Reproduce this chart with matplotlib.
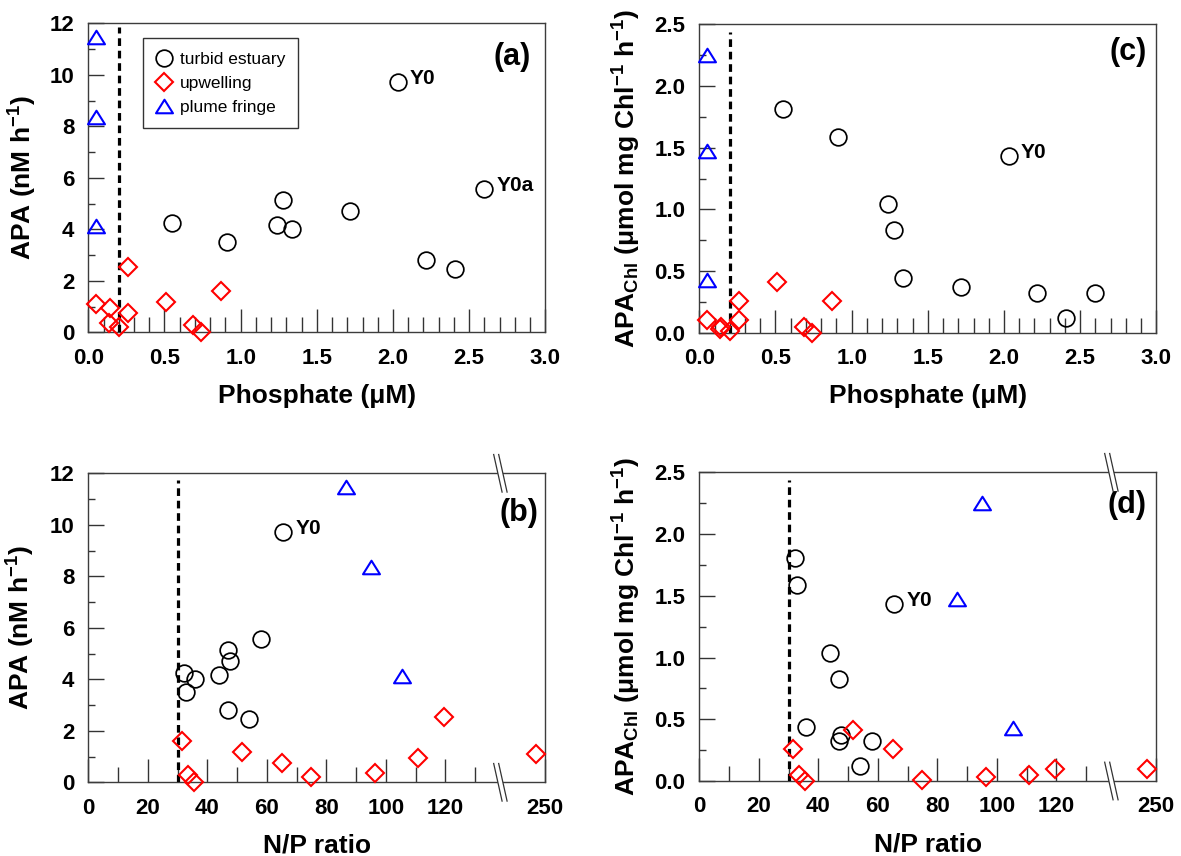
import numpy as np
import matplotlib
matplotlib.use("Agg")
import matplotlib.pyplot as plt
from matplotlib.path import Path
from matplotlib.ticker import FixedLocator, MultipleLocator, FormatStrFormatter
from matplotlib.patches import Polygon
from matplotlib.lines import Line2D

plt.rcParams['font.family'] = ['Liberation Sans', 'DejaVu Sans']
plt.rcParams['font.weight'] = 'bold'
plt.rcParams['axes.labelweight'] = 'bold'
plt.rcParams['mathtext.default'] = 'regular'

# ---------------- data ----------------
# turbid estuary
P_turbid = [0.55, 0.91, 1.24, 1.28, 1.34, 1.72, 2.03, 2.22, 2.41, 2.60]
APA_turbid = [4.26, 3.50, 4.17, 5.14, 4.03, 4.70, 9.73, 2.80, 2.45, 5.57]
NP_turbid = [32.2, 32.9, 44.0, 46.9, 35.7, 47.5, 65.6, 46.8, 54.1, 58.2]
APAchl_turbid = [1.81, 1.59, 1.04, 0.83, 0.44, 0.37, 1.43, 0.32, 0.12, 0.32]
station_labels_turbid = ['', '', '', '', '', '', 'Y0', '', '', 'Y0a']

# upwelling
P_up = [0.05, 0.135, 0.14, 0.20, 0.26, 0.26, 0.51, 0.685, 0.74, 0.87]
APA_up = [1.10, 0.38, 0.94, 0.19, 2.55, 0.75, 1.18, 0.28, 0.03, 1.60]
NP_up = [247, 96.4, 110.8, 74.8, 119.5, 65.2, 51.6, 33.5, 35.4, 31.6]
APAchl_up = [0.10, 0.03, 0.05, 0.01, 0.10, 0.26, 0.41, 0.05, 0.00, 0.26]

# plume fringe
P_plume = [0.05, 0.05, 0.05]
APA_plume = [11.45, 8.35, 4.12]
NP_plume = [86.5, 94.9, 105.6]
APAchl_plume = [1.47, 2.25, 0.43]

series_labels = ['turbid estuary', 'upwelling', 'plume fringe']

# reference thresholds (dashed lines)
P_threshold = 0.2
NP_threshold = 30

phos_ticks = [0.0, 0.5, 1.0, 1.5, 2.0, 2.5, 3.0]
np_ticks = [0, 20, 40, 60, 80, 100, 120, 250]
np_tick_labels = ['0', '20', '40', '60', '80', '100', '120', '250']
np_minor_ticks = [10, 30, 50, 70, 90, 110, 130]

# ---------------- styles ----------------
TRI = Path([(-1, -0.8), (1, -0.8), (0, 0.8), (-1, -0.8)],
           [Path.MOVETO, Path.LINETO, Path.LINETO, Path.CLOSEPOLY])
styles = [dict(marker='o', ms=12.0, mec='black', mew=1.25),
          dict(marker='D', ms=9.0, mec='#ff0000', mew=1.5),
          dict(marker=TRI, ms=12.2, mec='#0000ff', mew=1.5)]

# broken N/P axis
B0, B1 = 138.5, 235.0
EPS = 1e-3


def fwd(x):
    x = np.asarray(x, dtype=float)
    return np.where(x <= B0, x,
                    np.where(x >= B1, x - (B1 - B0) + (B1 - B0) * EPS,
                             B0 + (x - B0) * EPS))


def inv(y):
    y = np.asarray(y, dtype=float)
    g = (B1 - B0) * EPS
    return np.where(y <= B0, y,
                    np.where(y >= B0 + g, y + (B1 - B0) - g,
                             B0 + (y - B0) / EPS))


fig = plt.figure(figsize=(11.81, 8.56), dpi=100)
FW, FH = 1181.0, 856.0
W, H = 457 / FW, 309 / FH
ax_a = fig.add_axes([88.3 / FW, (FH - 332.3) / FH, W, H])
ax_c = fig.add_axes([699.3 / FW, (FH - 332.7) / FH, W, 308.4 / FH])
ax_b = fig.add_axes([88.3 / FW, (FH - 782.3) / FH, W, H])
ax_d = fig.add_axes([699.3 / FW, (FH - 781.0) / FH, W, 308.7 / FH])

TICK_FS = 16
LABEL_FS = 19
XLAB_Y = -0.166


def style(ax):
    for s in ax.spines.values():
        s.set_color('#3c3c3c')
        s.set_linewidth(1.0)
    ax.tick_params(axis='both', which='both', direction='in', color='#333333',
                   width=1.0, top=False, right=False, labelsize=TICK_FS)
    ax.tick_params(axis='x', which='major', length=16.5, pad=11)
    ax.tick_params(axis='x', which='minor', length=11)
    ax.tick_params(axis='y', which='major', length=11.3, pad=10)
    ax.tick_params(axis='y', which='minor', length=5)


def scatter_all(ax, xs, ys):
    handles = []
    for x, y, st in zip(xs, ys, styles):
        h, = ax.plot(x, y, linestyle='none', mfc='none', clip_on=False, zorder=4, **st)
        handles.append(h)
    return handles


def annotate(ax, xs, ys, labels):
    for x, y, t in zip(xs, ys, labels):
        if t:
            ax.annotate(t, xy=(x, y), xytext=(8.5, 2.5), textcoords='offset points',
                        ha='left', va='center', fontsize=15, fontweight='bold')


def add_break(ax, xval):
    fx = ax.transAxes.inverted().transform(ax.transData.transform((xval, 0)))[0]
    px = 1.0 / (ax.get_position().width * FW)
    py = 1.0 / (ax.get_position().height * FH)
    for yb in (0.0, 1.0):
        half_dx, dy, sep = 4.2, 18.8, 2.5
        quad = [(fx + (-sep - half_dx) * px, yb + dy * py),
                (fx + (sep - half_dx) * px, yb + dy * py),
                (fx + (sep + half_dx) * px, yb - dy * py),
                (fx + (-sep + half_dx) * px, yb - dy * py)]
        poly = Polygon(quad, closed=True, transform=ax.transAxes, facecolor='white',
                       edgecolor='none', clip_on=False, zorder=5)
        ax.add_patch(poly)
        for s in (-sep, sep):
            ln = Line2D([fx + (s - half_dx) * px, fx + (s + half_dx) * px],
                        [yb + dy * py, yb - dy * py], transform=ax.transAxes,
                        color='#333333', lw=0.9, clip_on=False, zorder=6)
            ax.add_line(ln)


dash_kw = dict(color='black', lw=2.3, dashes=(2.4, 1.5), dash_capstyle='butt', zorder=3)
APA_LABEL = 'APA (nM h$^{-1}$)'
APACHL_LABEL = 'APA$_{Chl}$ (μmol mg Chl$^{-1}$ h$^{-1}$)'

# ---- (a) ----
ax = ax_a
style(ax)
h = scatter_all(ax, [P_turbid, P_up, P_plume], [APA_turbid, APA_up, APA_plume])
ax.axvline(P_threshold, ymin=0, ymax=0.9875, **dash_kw)
annotate(ax, P_turbid, APA_turbid, station_labels_turbid)
ax.set_xlim(0, 3)
ax.set_ylim(0, 12)
ax.xaxis.set_major_locator(FixedLocator(phos_ticks))
ax.xaxis.set_minor_locator(MultipleLocator(0.1))
ax.xaxis.set_major_formatter(FormatStrFormatter('%.1f'))
ax.yaxis.set_major_locator(MultipleLocator(2))
ax.yaxis.set_minor_locator(MultipleLocator(1))
ax.set_xlabel('Phosphate (μM)', fontsize=LABEL_FS)
ax.set_ylabel(APA_LABEL, fontsize=LABEL_FS)
ax.xaxis.set_label_coords(0.5, XLAB_Y)
ax.yaxis.set_label_coords(-0.108, 0.5)
ax.text(0.968, 0.891, '(a)', transform=ax.transAxes, ha='right', va='center', fontsize=22)
leg = ax.legend(h, series_labels, loc='upper left', bbox_to_anchor=(0.120, 0.951),
                borderaxespad=0, frameon=True, fancybox=False, edgecolor='#333333',
                framealpha=1, prop={'weight': 'normal', 'size': 12.5},
                handlelength=0.85, handletextpad=0.5, labelspacing=0.53, borderpad=0.75,
                numpoints=1)
leg.get_frame().set_linewidth(1.0)

# ---- (c) ----
ax = ax_c
style(ax)
scatter_all(ax, [P_turbid, P_up, P_plume], [APAchl_turbid, APAchl_up, APAchl_plume])
ax.axvline(P_threshold, ymin=0, ymax=0.976, **dash_kw)
annotate(ax, P_turbid, APAchl_turbid, ['Y0' if t == 'Y0' else '' for t in station_labels_turbid])
ax.set_xlim(0, 3)
ax.set_ylim(0, 2.5)
ax.xaxis.set_major_locator(FixedLocator(phos_ticks))
ax.xaxis.set_minor_locator(MultipleLocator(0.1))
ax.xaxis.set_major_formatter(FormatStrFormatter('%.1f'))
ax.yaxis.set_major_locator(MultipleLocator(0.5))
ax.yaxis.set_minor_locator(MultipleLocator(0.25))
ax.yaxis.set_major_formatter(FormatStrFormatter('%.1f'))
ax.set_xlabel('Phosphate (μM)', fontsize=LABEL_FS)
ax.set_ylabel(APACHL_LABEL, fontsize=LABEL_FS)
ax.xaxis.set_label_coords(0.5, XLAB_Y)
ax.yaxis.set_label_coords(-0.123, 0.5)
ax.text(0.980, 0.910, '(c)', transform=ax.transAxes, ha='right', va='center', fontsize=22)

# ---- (b) ----
ax = ax_b
style(ax)
ax.set_xscale('function', functions=(fwd, inv))
scatter_all(ax, [NP_turbid, NP_up, NP_plume], [APA_turbid, APA_up, APA_plume])
ax.axvline(NP_threshold, ymin=0, ymax=0.979, **dash_kw)
annotate(ax, NP_turbid, APA_turbid, ['Y0' if t == 'Y0' else '' for t in station_labels_turbid])
ax.set_xlim(0, 250)
ax.set_ylim(0, 12)
ax.set_xticks(np_ticks, np_tick_labels)
ax.xaxis.set_minor_locator(FixedLocator(np_minor_ticks))
ax.yaxis.set_major_locator(MultipleLocator(2))
ax.yaxis.set_minor_locator(MultipleLocator(1))
ax.set_xlabel('N/P ratio', fontsize=LABEL_FS)
ax.set_ylabel(APA_LABEL, fontsize=LABEL_FS)
ax.xaxis.set_label_coords(0.5, XLAB_Y)
ax.yaxis.set_label_coords(-0.112, 0.5)
ax.text(0.984, 0.871, '(b)', transform=ax.transAxes, ha='right', va='center', fontsize=22)
add_break(ax, B0)

# ---- (d) ----
ax = ax_d
style(ax)
ax.set_xscale('function', functions=(fwd, inv))
scatter_all(ax, [NP_turbid, NP_up, NP_plume], [APAchl_turbid, APAchl_up, APAchl_plume])
ax.axvline(NP_threshold, ymin=0, ymax=0.976, **dash_kw)
annotate(ax, NP_turbid, APAchl_turbid, ['Y0' if t == 'Y0' else '' for t in station_labels_turbid])
ax.set_xlim(0, 250)
ax.set_ylim(0, 2.5)
ax.set_xticks(np_ticks, np_tick_labels)
ax.xaxis.set_minor_locator(FixedLocator(np_minor_ticks))
ax.yaxis.set_major_locator(MultipleLocator(0.5))
ax.yaxis.set_minor_locator(MultipleLocator(0.25))
ax.yaxis.set_major_formatter(FormatStrFormatter('%.1f'))
ax.set_xlabel('N/P ratio', fontsize=LABEL_FS)
ax.set_ylabel(APACHL_LABEL, fontsize=LABEL_FS)
ax.xaxis.set_label_coords(0.5, XLAB_Y)
ax.yaxis.set_label_coords(-0.123, 0.5)
ax.text(0.979, 0.894, '(d)', transform=ax.transAxes, ha='right', va='center', fontsize=22)
add_break(ax, B0)

fig.savefig('out.png', dpi=100)
